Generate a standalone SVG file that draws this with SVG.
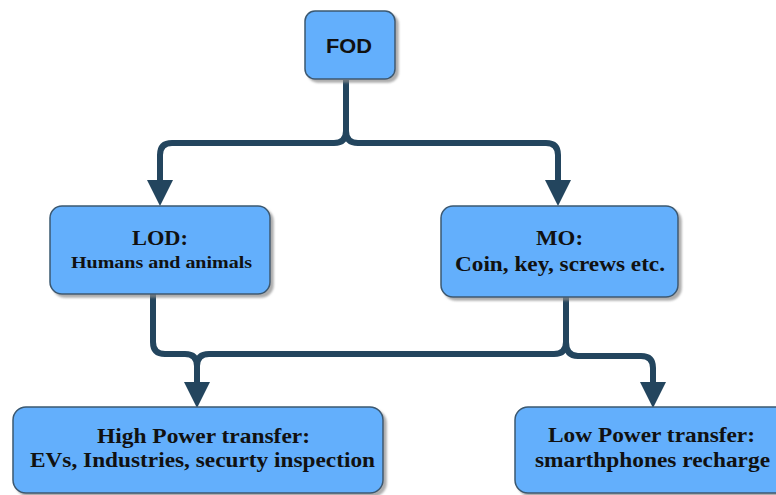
<svg xmlns="http://www.w3.org/2000/svg" width="776" height="495" viewBox="0 0 776 495">
  <defs>
    <filter id="shadow" x="-10%" y="-10%" width="130%" height="140%">
      <feDropShadow dx="3" dy="3" stdDeviation="1" flood-color="#8a8a8a" flood-opacity="0.7"/>
    </filter>
    <marker id="arrow" markerUnits="userSpaceOnUse" markerWidth="26" markerHeight="26" viewBox="0 0 26 26" refX="0" refY="13" orient="auto">
      <path d="M0,0 L26,13 L0,26 z" fill="#23455e"/>
    </marker>
  </defs>
  <style>
    .box { fill: #64affc; stroke: #3b5870; stroke-width: 1.5; filter: url(#shadow); }
    .wire { fill: none; stroke: #23455e; stroke-width: 6; stroke-linecap: butt; }
    .serif { font-family: "Liberation Serif", "Times New Roman", serif; font-weight: bold; fill: #111; text-anchor: middle; }
    .sans { font-family: "Liberation Sans", Arial, sans-serif; font-weight: bold; fill: #111; text-anchor: middle; }
  </style>
  <rect width="776" height="495" fill="#ffffff"/>

  <g id="connectors">
    <path class="wire" d="M346,80 V131 Q346,143 334,143 H172 Q160,143 160,155 V180" marker-end="url(#arrow)"/>
    <path class="wire" d="M346,131 Q346,143 358,143 H546 Q558,143 558,155 V180" marker-end="url(#arrow)"/>
    <path class="wire" d="M153,294 V342 Q153,354 165,354 H185 Q197,354 197,366 V382" marker-end="url(#arrow)"/>
    <path class="wire" d="M566,297 V342 Q566,354 554,354 H209 Q197,354 197,366"/>
    <path class="wire" d="M566,342 Q566,356 578,356 H641 Q653,356 653,368 V382" marker-end="url(#arrow)"/>
  </g>

  <g id="fod">
    <rect class="box" x="305" y="11" width="90" height="68" rx="10"/>
    <text class="sans" x="349" y="53" font-size="19.5" textLength="46" lengthAdjust="spacingAndGlyphs">FOD</text>
  </g>

  <g id="lod">
    <rect class="box" x="50" y="206" width="220" height="88" rx="12"/>
    <text class="serif" x="160" y="245" font-size="21" textLength="56" lengthAdjust="spacingAndGlyphs">LOD:</text>
    <text class="serif" x="161.5" y="267.5" font-size="17" textLength="181" lengthAdjust="spacingAndGlyphs">Humans and animals</text>
  </g>

  <g id="mo">
    <rect class="box" x="441" y="206" width="237" height="91" rx="12"/>
    <text class="serif" x="559.5" y="245" font-size="21" textLength="47" lengthAdjust="spacingAndGlyphs">MO:</text>
    <text class="serif" x="560" y="271" font-size="20" textLength="210" lengthAdjust="spacingAndGlyphs">Coin, key, screws etc.</text>
  </g>

  <g id="high-power">
    <rect class="box" x="13" y="407" width="370" height="86" rx="13"/>
    <text class="serif" x="203.5" y="443" font-size="21" textLength="213" lengthAdjust="spacingAndGlyphs">High Power transfer:</text>
    <text class="serif" x="202.5" y="466.5" font-size="21" textLength="345" lengthAdjust="spacingAndGlyphs">EVs, Industries, securty inspection</text>
  </g>

  <g id="low-power">
    <rect class="box" x="515" y="407" width="275" height="86" rx="13"/>
    <text class="serif" x="651.5" y="442" font-size="20" textLength="207" lengthAdjust="spacingAndGlyphs">Low Power transfer:</text>
    <text class="serif" x="652.5" y="466.5" font-size="20" textLength="235" lengthAdjust="spacingAndGlyphs">smarthphones recharge</text>
  </g>
</svg>
